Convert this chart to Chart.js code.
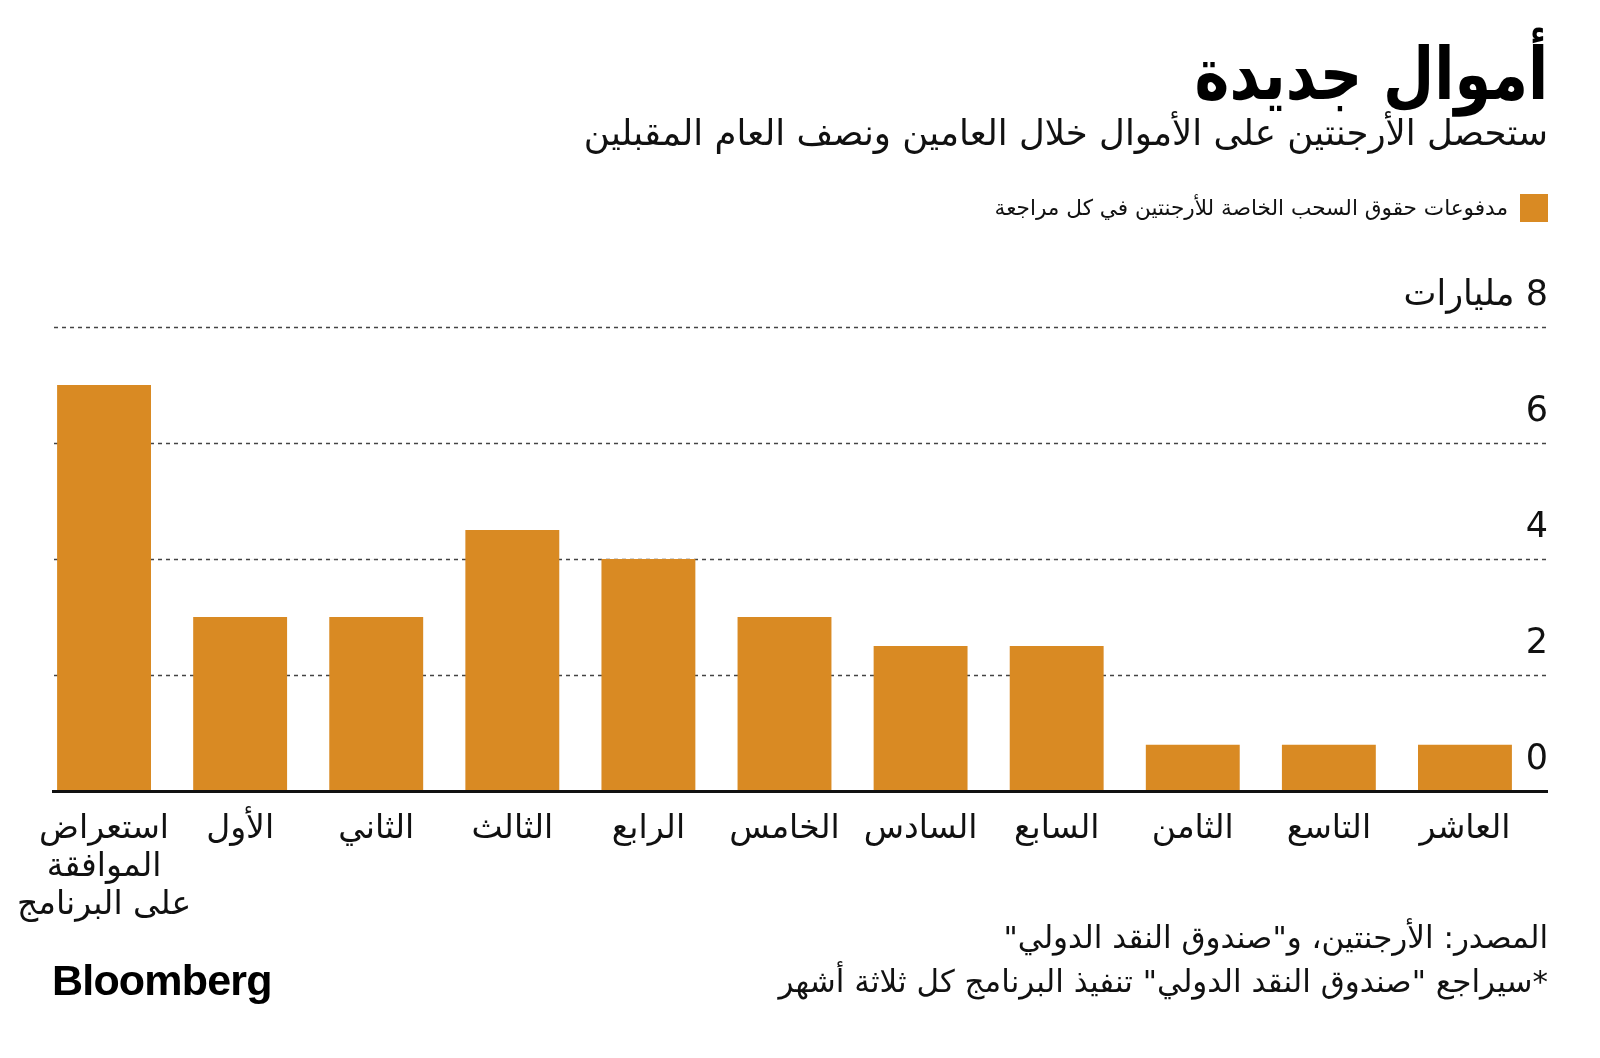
<!DOCTYPE html>
<html lang="ar" dir="rtl">
<head>
<meta charset="utf-8">
<script src="https://cdn.jsdelivr.net/npm/chart.js@4/dist/chart.umd.min.js"></script>
<style>
  body { margin: 0; background: #fff; font-family: "DejaVu Sans", sans-serif; color: #111; }
  #wrap { position: relative; width: 1600px; height: 1058px; overflow: hidden; }
  #chart { position: absolute; left: 0; top: 0; }
  .txt { position: absolute; right: 52px; white-space: nowrap; line-height: 1; }
  #title { top: 38px; font-size: 72px; font-weight: bold; transform: scaleX(0.82); transform-origin: right center; color: #000; }
  #subtitle { top: 115px; font-size: 35.5px; }
  #legend { top: 194px; right: 52px; display: flex; align-items: center; }
  #legend .box { width: 28px; height: 28px; background: #d98a23; margin-left: 12px; }
  #legend span { font-size: 21.6px; }
  #source { top: 922px; font-size: 31px; }
  #note { top: 966px; font-size: 31px; }
  #logo { position: absolute; left: 52px; top: 956px; font-family: "Liberation Sans", Arial, sans-serif;
          font-weight: bold; font-size: 43px; letter-spacing: -0.8px; direction: ltr; color: #000; }
</style>
</head>
<body>
<div id="wrap">
  <canvas id="chart" width="1600" height="1058"></canvas>
  <div class="txt" id="title">أموال جديدة</div>
  <div class="txt" id="subtitle">ستحصل الأرجنتين على الأموال خلال العامين ونصف العام المقبلين</div>
  <div class="txt" id="legend"><div class="box"></div><span>مدفوعات حقوق السحب الخاصة للأرجنتين في كل مراجعة</span></div>
  <div class="txt" id="source">المصدر: الأرجنتين، و"صندوق النقد الدولي"</div>
  <div class="txt" id="note">*سيراجع "صندوق النقد الدولي" تنفيذ البرنامج كل ثلاثة أشهر</div>
  <div id="logo">Bloomberg</div>
</div>
<script>
var reviews = [['استعراض', 'الموافقة', 'على البرنامج'], 'الأول', 'الثاني', 'الثالث', 'الرابع', 'الخامس', 'السادس', 'السابع', 'الثامن', 'التاسع', 'العاشر'];
var sdrPayments = [7.0, 3.0, 3.0, 4.5, 4.0, 3.0, 2.5, 2.5, 0.8, 0.8, 0.8];
var yTicks = [0, 2, 4, 6, 8];
var yTickLabels = ['0', '2', '4', '6', '8 مليارات'];

var barColor = '#d98a23';
var gridLeft = 54, gridRight = 1548;

// grid lines, baseline and the y labels sit outside the plot area, so draw them here
var sideAxis = {
    id: 'sideAxis',
    beforeDatasetsDraw: function (chart) {
        var y = chart.scales.y, ctx = chart.ctx;
        ctx.save();
        ctx.strokeStyle = '#444';
        ctx.lineWidth = 1.5;
        ctx.setLineDash([4, 4]);
        yTicks.forEach(function (v) {
            if (v === 0) return;
            var py = Math.round(y.getPixelForValue(v)) + 0.5;
            ctx.beginPath();
            ctx.moveTo(gridLeft, py);
            ctx.lineTo(gridRight, py);
            ctx.stroke();
        });
        ctx.restore();
    },
    afterDatasetsDraw: function (chart) {
        var y = chart.scales.y, ctx = chart.ctx;
        ctx.save();
        var py0 = y.getPixelForValue(0);
        ctx.fillStyle = '#111';
        ctx.fillRect(gridLeft - 2, Math.round(py0) - 1, gridRight - gridLeft + 2, 3);
        ctx.direction = 'rtl';
        ctx.textAlign = 'right';
        ctx.textBaseline = 'alphabetic';
        ctx.font = '35px "DejaVu Sans"';
        yTicks.forEach(function (v, i) {
            ctx.fillText(yTickLabels[i], gridRight, y.getPixelForValue(v) - 22);
        });
        ctx.restore();
    }
};

var ctx = document.getElementById('chart').getContext('2d');
var chart = new Chart(ctx, {
    type: 'bar',
    data: {
        labels: reviews,
        datasets: [{
            label: 'مدفوعات حقوق السحب الخاصة للأرجنتين في كل مراجعة',
            data: sdrPayments,
            backgroundColor: barColor,
            borderWidth: 0,
            barPercentage: 0.69,
            categoryPercentage: 1
        }]
    },
    options: {
        responsive: false,
        animation: false,
        layout: { padding: { left: 36, right: 67, top: 327, bottom: 115 } },
        plugins: { legend: { display: false }, tooltip: { enabled: false } },
        scales: {
            x: {
                grid: { display: false, drawTicks: false },
                border: { display: false },
                afterFit: function (scale) {
                    // the wide first label must not push the plot inwards
                    scale.paddingLeft = 0;
                    scale.paddingRight = 0;
                },
                ticks: {
                    color: '#111',
                    font: { family: 'DejaVu Sans', size: 33, lineHeight: 1.15 },
                    padding: 19,
                    maxRotation: 0,
                    autoSkip: false
                }
            },
            y: {
                display: false,
                min: 0,
                max: 8,
                ticks: { stepSize: 2 }
            }
        }
    },
    plugins: [sideAxis]
});
</script>
</body>
</html>
